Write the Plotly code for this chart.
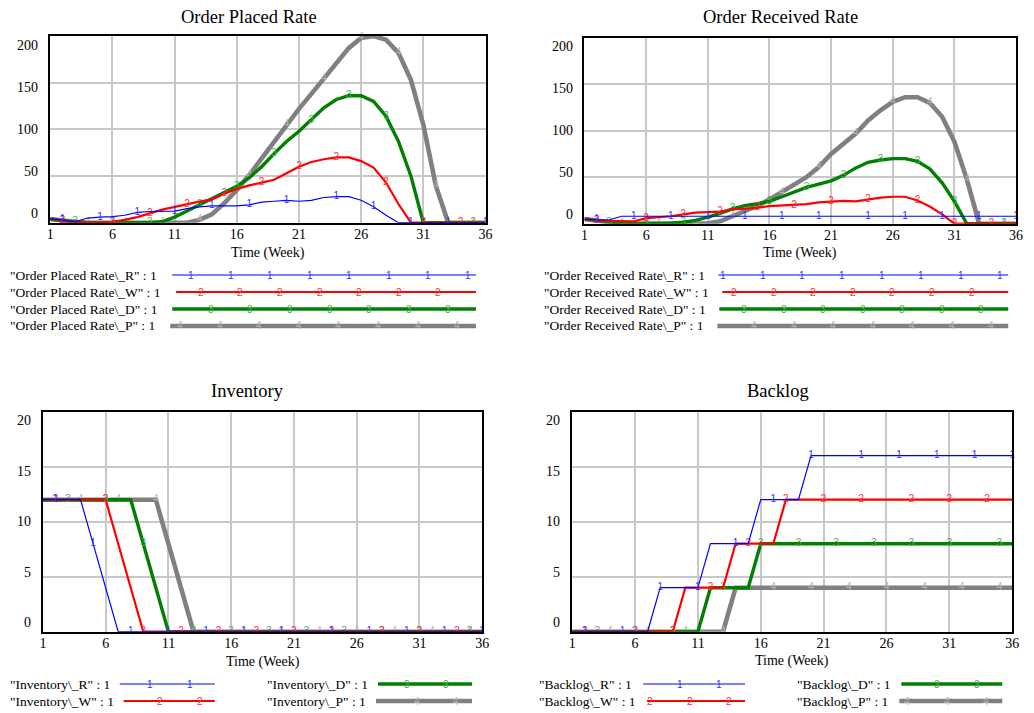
import plotly.graph_objects as go

# ---- time axis and tick values ----
weeks = list(range(1, 37))
week_ticks = [1, 6, 11, 16, 21, 26, 31, 36]
rate_ticks = [0, 50, 100, 150, 200]
stock_ticks = [0, 5, 10, 15, 20]

# ---- Order Placed Rate (units/week) ----
placed_R = [4, 3, 1, 5, 6, 6.5, 8, 11, 12, 12.5, 12.5, 15, 17, 18, 18, 18, 19, 22,
            23, 24, 23, 24, 27, 28, 28, 24, 17, 8, 0, 0, 0, 0, 0, 0, 0, 0]
placed_W = [4, 2, 1, 0, 0, 1, 3, 6, 10, 14, 17, 20, 22.5, 25, 31, 36, 40, 43,
            46, 53, 60, 65, 68, 70, 70, 66, 59, 43, 20, 0, 0, 0, 0, 0, 0, 0]
placed_D = [4, 2, 1, 0, 0, 0, 0, 0, 0, 1, 6, 12.5, 19, 26, 33, 39, 48, 60,
            74, 87, 98, 110, 123, 132, 136, 136, 130, 114, 87, 50, 0, 0, 0, 0, 0, 0]
placed_P = [4, 2, 1, 0, 0, 0, 0, 0, 0, 0, 0, 0, 3, 9, 21, 35, 51, 69,
            87, 105, 122, 138, 155, 172, 187, 198, 200, 196, 182, 153, 105, 40, 0, 0, 0, 0]

# ---- Order Received Rate (units/week) ----
received_R = [5, 4, 4, 8, 8, 8, 8, 8, 8, 8, 8, 8, 8, 8, 8, 8, 8, 8,
              8, 8, 8, 8, 8, 8, 8, 8, 8, 8, 8, 8, 8, 8, 8, 8, 8, 8]
received_W = [5, 3.5, 3, 2.5, 2.5, 6, 7, 8, 10, 12, 12.5, 13, 15.5, 16, 17, 19, 19.5, 20,
              21, 23, 24, 24.5, 24, 26, 28, 29, 29, 25, 18.5, 10, 0, 0, 0, 0, 0, 0]
received_D = [5, 3.5, 1.5, 0.5, 0, 0, 0, 0.5, 1.5, 3.5, 7, 11, 16, 19.5, 21.5, 24, 29, 34,
              39, 42.5, 46, 52, 60, 66, 68.5, 70, 70, 67, 59, 44, 24, 0, 0, 0, 0, 0]
received_P = [5, 3.5, 1, 0, 0, 0, 0, 0, 0, 0, 0.5, 2.5, 8, 13, 19, 26, 34, 41,
              50, 61, 75, 86, 97, 111, 122, 131, 136, 136, 130, 115, 88, 48, 0, 0, 0, 0]

# ---- Inventory (units) ----
inventory_R = [12, 12, 12, 12, 8, 4, 0, 0, 0, 0, 0, 0, 0, 0, 0, 0, 0, 0,
               0, 0, 0, 0, 0, 0, 0, 0, 0, 0, 0, 0, 0, 0, 0, 0, 0, 0]
inventory_W = [12, 12, 12, 12, 12, 12, 8, 4, 0, 0, 0, 0, 0, 0, 0, 0, 0, 0,
               0, 0, 0, 0, 0, 0, 0, 0, 0, 0, 0, 0, 0, 0, 0, 0, 0, 0]
inventory_D = [12, 12, 12, 12, 12, 12, 12, 12, 8, 4, 0, 0, 0, 0, 0, 0, 0, 0,
               0, 0, 0, 0, 0, 0, 0, 0, 0, 0, 0, 0, 0, 0, 0, 0, 0, 0]
inventory_P = [12, 12, 12, 12, 12, 12, 12, 12, 12, 12, 8, 4, 0, 0, 0, 0, 0, 0,
               0, 0, 0, 0, 0, 0, 0, 0, 0, 0, 0, 0, 0, 0, 0, 0, 0, 0]

# ---- Backlog (units) ----
backlog_R = [0, 0, 0, 0, 0, 0, 0, 4, 4, 4, 4, 8, 8, 8, 8, 12, 12, 12,
             12, 16, 16, 16, 16, 16, 16, 16, 16, 16, 16, 16, 16, 16, 16, 16, 16, 16]
backlog_W = [0, 0, 0, 0, 0, 0, 0, 0, 0, 4, 4, 4, 4, 8, 8, 8, 8, 12,
             12, 12, 12, 12, 12, 12, 12, 12, 12, 12, 12, 12, 12, 12, 12, 12, 12, 12]
backlog_D = [0, 0, 0, 0, 0, 0, 0, 0, 0, 0, 0, 4, 4, 4, 4, 8, 8, 8,
             8, 8, 8, 8, 8, 8, 8, 8, 8, 8, 8, 8, 8, 8, 8, 8, 8, 8]
backlog_P = [0, 0, 0, 0, 0, 0, 0, 0, 0, 0, 0, 0, 0, 4, 4, 4, 4, 4,
             4, 4, 4, 4, 4, 4, 4, 4, 4, 4, 4, 4, 4, 4, 4, 4, 4, 4]

# weeks at which each series carries its numbered tag
tag_weeks = {
    "R": [2, 5, 8, 11, 14, 17, 20, 24, 27, 30, 33, 36],
    "W": [2, 6, 9, 12, 15, 18, 21, 24, 28, 31, 34],
    "D": [3, 6, 9, 13, 16, 19, 22, 25, 28, 31, 35],
    "P": [4, 7, 10, 13, 17, 20, 23, 26, 29, 32, 35],
}

# ---- styling ----
FIG_W, FIG_H = 1034, 713
SERIF = "Liberation Serif, Times New Roman, serif"
SANS = "Liberation Sans, Arial, sans-serif"
STYLE = {
    "R": dict(color="#0000ff", width=1.2, tag="1", tag_color="#3030ff"),
    "W": dict(color="#ff0000", width=2.2, tag="2", tag_color="#ff3030"),
    "D": dict(color="#008000", width=3.4, tag="3", tag_color="#40b040"),
    "P": dict(color="#808080", width=4.6, tag="4", tag_color="#b4b4b4"),
}
DRAW_ORDER = ["P", "D", "W", "R"]
LABEL_PULL = 18.5   # value labels at the ends of the y scale are pulled inwards (px)


def fx(x):
    return x / FIG_W


def fy(y):
    return 1 - y / FIG_H


panels = [
    dict(name="Order Placed Rate", var="Order Placed Rate",
         data=dict(R=placed_R, W=placed_W, D=placed_D, P=placed_P),
         ticks=rate_ticks, box=(46.7, 36.0, 486.7, 222.7),
         title_xy=(248, 17), xlab_y=253,
         legend=[("R", 8, 275, 170, 189), ("W", 8, 292, 174, 199),
                 ("D", 8, 309, 170, 209), ("P", 8, 326, 168, 178)],
         legend_end=477),
    dict(name="Order Received Rate", var="Order Received Rate",
         data=dict(R=received_R, W=received_W, D=received_D, P=received_P),
         ticks=rate_ticks, box=(586.7, 37.7, 1023.0, 223.7),
         title_xy=(785, 17), xlab_y=253,
         legend=[("R", 548, 275, 722, 727), ("W", 548, 292, 726, 738),
                 ("D", 548, 309, 723, 748), ("P", 548, 326, 721, 758)],
         legend_end=1015),
    dict(name="Inventory", var="Inventory",
         data=dict(R=inventory_R, W=inventory_W, D=inventory_D, P=inventory_P),
         ticks=stock_ticks, box=(39.3, 411.7, 483.3, 631.7),
         title_xy=(246, 391), xlab_y=662,
         legend=[("R", 8, 684, 117, 148, 213), ("W", 8, 701, 121, 158, 213),
                 ("D", 268, 684, 378, 407, 473), ("P", 268, 701, 376, 417, 473)]),
    dict(name="Backlog", var="Backlog",
         data=dict(R=backlog_R, W=backlog_W, D=backlog_D, P=backlog_P),
         ticks=stock_ticks, box=(574.3, 411.7, 1019.0, 631.7),
         title_xy=(782, 391), xlab_y=661,
         legend=[("R", 543, 684, 646, 683, 749), ("W", 543, 701, 650, 653, 749),
                 ("D", 803, 684, 907, 943, 1009), ("P", 803, 701, 905, 913, 1009)]),
]

fig = go.Figure()
annotations = []
shapes = []

for i, p in enumerate(panels, start=1):
    xa = "x" if i == 1 else f"x{i}"
    ya = "y" if i == 1 else f"y{i}"
    x0, y0, x1, y1 = p["box"]

    for key in DRAW_ORDER:
        st = STYLE[key]
        labels = [st["tag"] if w in tag_weeks[key] else "" for w in weeks]
        fig.add_trace(go.Scatter(
            x=weeks, y=p["data"][key], xaxis=xa, yaxis=ya,
            mode="lines+text", text=labels, textposition="middle center",
            textfont=dict(family=SANS, size=10, color=st["tag_color"]),
            line=dict(color=st["color"], width=st["width"]),
            cliponaxis=False, showlegend=False, hoverinfo="skip",
        ))

    axis_common = dict(
        showgrid=True, gridcolor="#c8c8c8", gridwidth=1.5,
        showline=True, mirror=True, linecolor="#000000", linewidth=2,
        zeroline=False, ticks="", fixedrange=True,
        tickfont=dict(family=SERIF, size=14, color="#000000"),
    )
    fig.layout[f"xaxis{'' if i == 1 else i}"] = dict(
        axis_common, domain=[fx(x0), fx(x1)], anchor=ya,
        range=[1, 36], tickmode="array", tickvals=week_ticks,
        ticklabelstandoff=-3,
    )
    lo, hi = p["ticks"][0], p["ticks"][-1]
    fig.layout[f"yaxis{'' if i == 1 else i}"] = dict(
        axis_common, domain=[fy(y1), fy(y0)], anchor=xa,
        range=[lo, hi], tickmode="array", tickvals=p["ticks"],
        showticklabels=False,
    )

    # y value labels, placed on the y scale and drawn slightly inside its ends
    for v in p["ticks"]:
        frac = (v - lo) / (hi - lo)
        annotations.append(dict(
            text=str(v), x=fx(x0 - 10), y=v, xref="paper", yref=ya,
            xanchor="right", yanchor="middle", showarrow=False,
            yshift=-(frac - 0.5) * LABEL_PULL,
            font=dict(family=SERIF, size=14, color="#000000")))

    # panel title and time-axis caption
    tx, ty = p["title_xy"]
    annotations.append(dict(
        text=p["name"], x=fx(tx), y=fy(ty), xref="paper", yref="paper",
        xanchor="center", yanchor="middle", showarrow=False,
        font=dict(family=SERIF, size=18.5, color="#000000")))
    annotations.append(dict(
        text="Time (Week)", x=fx((x0 + x1) / 2), y=fy(p["xlab_y"]),
        xref="paper", yref="paper", xanchor="center", yanchor="middle",
        showarrow=False, font=dict(family=SERIF, size=14, color="#000000")))

    # legend: label, sample line and numbered tags
    for entry in p["legend"]:
        if len(entry) == 5:
            key, lx, ly, sx0, first_tag = entry
            sx1 = p["legend_end"]
        else:
            key, lx, ly, sx0, first_tag, sx1 = entry
        st = STYLE[key]
        annotations.append(dict(
            text=f'"{p["var"]}\\_{key}" : 1', x=fx(lx - 4), y=fy(ly),
            xref="paper", yref="paper", xanchor="left", yanchor="middle",
            showarrow=False, font=dict(family=SERIF, size=13.5, color="#000000")))
        shapes.append(dict(
            type="line", xref="paper", yref="paper",
            x0=fx(sx0), x1=fx(sx1), y0=fy(ly), y1=fy(ly),
            line=dict(color=st["color"], width=st["width"])))
        tx_ = first_tag
        while tx_ <= sx1 - 3:
            annotations.append(dict(
                text=st["tag"], x=fx(tx_), y=fy(ly), xref="paper", yref="paper",
                xanchor="center", yanchor="middle", showarrow=False,
                font=dict(family=SANS, size=10, color=st["tag_color"])))
            tx_ += 40

fig.update_layout(
    width=FIG_W, height=FIG_H,
    margin=dict(l=0, r=0, t=0, b=0),
    paper_bgcolor="#ffffff", plot_bgcolor="#ffffff",
    annotations=annotations, shapes=shapes,
    showlegend=False,
)

fig.write_html("out.html", config={"displayModeBar": False})
